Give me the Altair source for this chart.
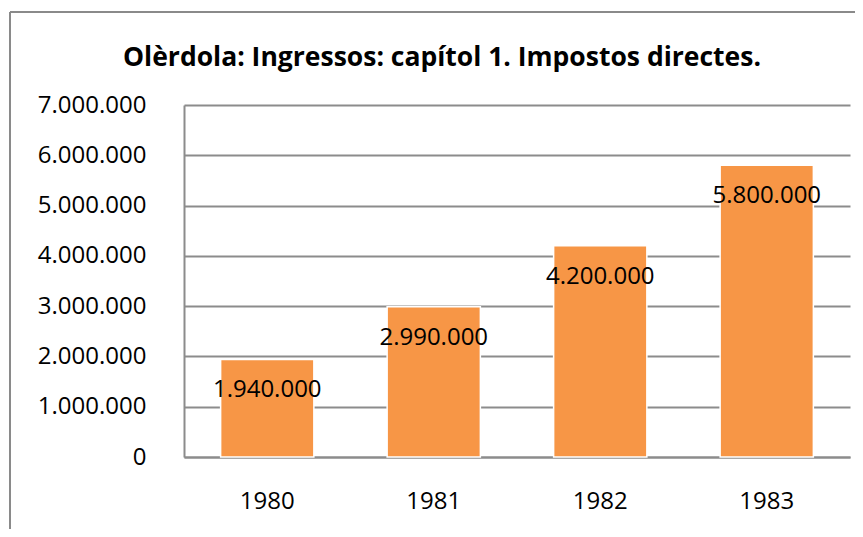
import altair as alt
import pandas as pd

years = ["1980", "1981", "1982", "1983"]
values = [1940000, 2990000, 4200000, 5800000]
y_ticks = [0, 1000000, 2000000, 3000000, 4000000, 5000000, 6000000, 7000000]
title_text = "Olèrdola: Ingressos: capítol 1. Impostos directes."

df = pd.DataFrame({"year": years, "value": values})

FONT = "Open Sans"
GRID = "#8c8c8c"

base = alt.Chart(df)

x_enc = alt.X("year:N", title=None,
              scale=alt.Scale(paddingInner=0.44, paddingOuter=0.22),
              axis=alt.Axis(labelAngle=0, ticks=False, domain=True, domainColor=GRID,
                            domainWidth=2, labelFont=FONT, labelFontSize=24,
                            labelColor="black", labelPadding=32, grid=False))
y_enc = alt.Y("value:Q", title=None,
              scale=alt.Scale(domain=[0, 7000000], nice=False),
              axis=alt.Axis(values=y_ticks, ticks=False, domain=True, domainColor=GRID,
                            domainWidth=2, grid=True, gridColor=GRID, gridWidth=2,
                            labelFont=FONT, labelFontSize=24, labelColor="black",
                            labelPadding=38,
                            labelExpr="replace(format(datum.value, ','), /,/g, '.')"))

bars = base.mark_bar(color="#F79646", stroke="#ffffff", strokeWidth=1.5).encode(
    x=x_enc, y=y_enc)

labels = base.transform_calculate(
    lbl="replace(format(datum.value, ','), /,/g, '.')"
).mark_text(font=FONT, fontSize=24, color="black", baseline="middle", dy=31).encode(
    x=alt.X("year:N"), y=alt.Y("value:Q"), text="lbl:N")

border_left = base.mark_rule(color="#8a8a8a", strokeWidth=2).encode(
    x=alt.value(-174), y=alt.value(-93), y2=alt.value(600))
border_top = base.mark_rule(color="#8a8a8a", strokeWidth=2).encode(
    x=alt.value(-174), x2=alt.value(900), y=alt.value(-93))

title = alt.Chart(pd.DataFrame({"t": [title_text]})).mark_text(
    font=FONT, fontSize=26.5, fontWeight="bold", color="black",
    align="center", baseline="alphabetic").encode(
    x=alt.value(258), y=alt.value(-39), text="t:N")

chart = alt.layer(bars, labels, border_left, border_top, title).properties(
    width=666, height=352,
    autosize=alt.AutoSizeParams(type="none"),
    padding={"left": 176, "top": 97, "right": 5, "bottom": 72},
).configure_view(stroke=None)

chart.save("out.html", embed_options={"renderer": "svg", "actions": False})
